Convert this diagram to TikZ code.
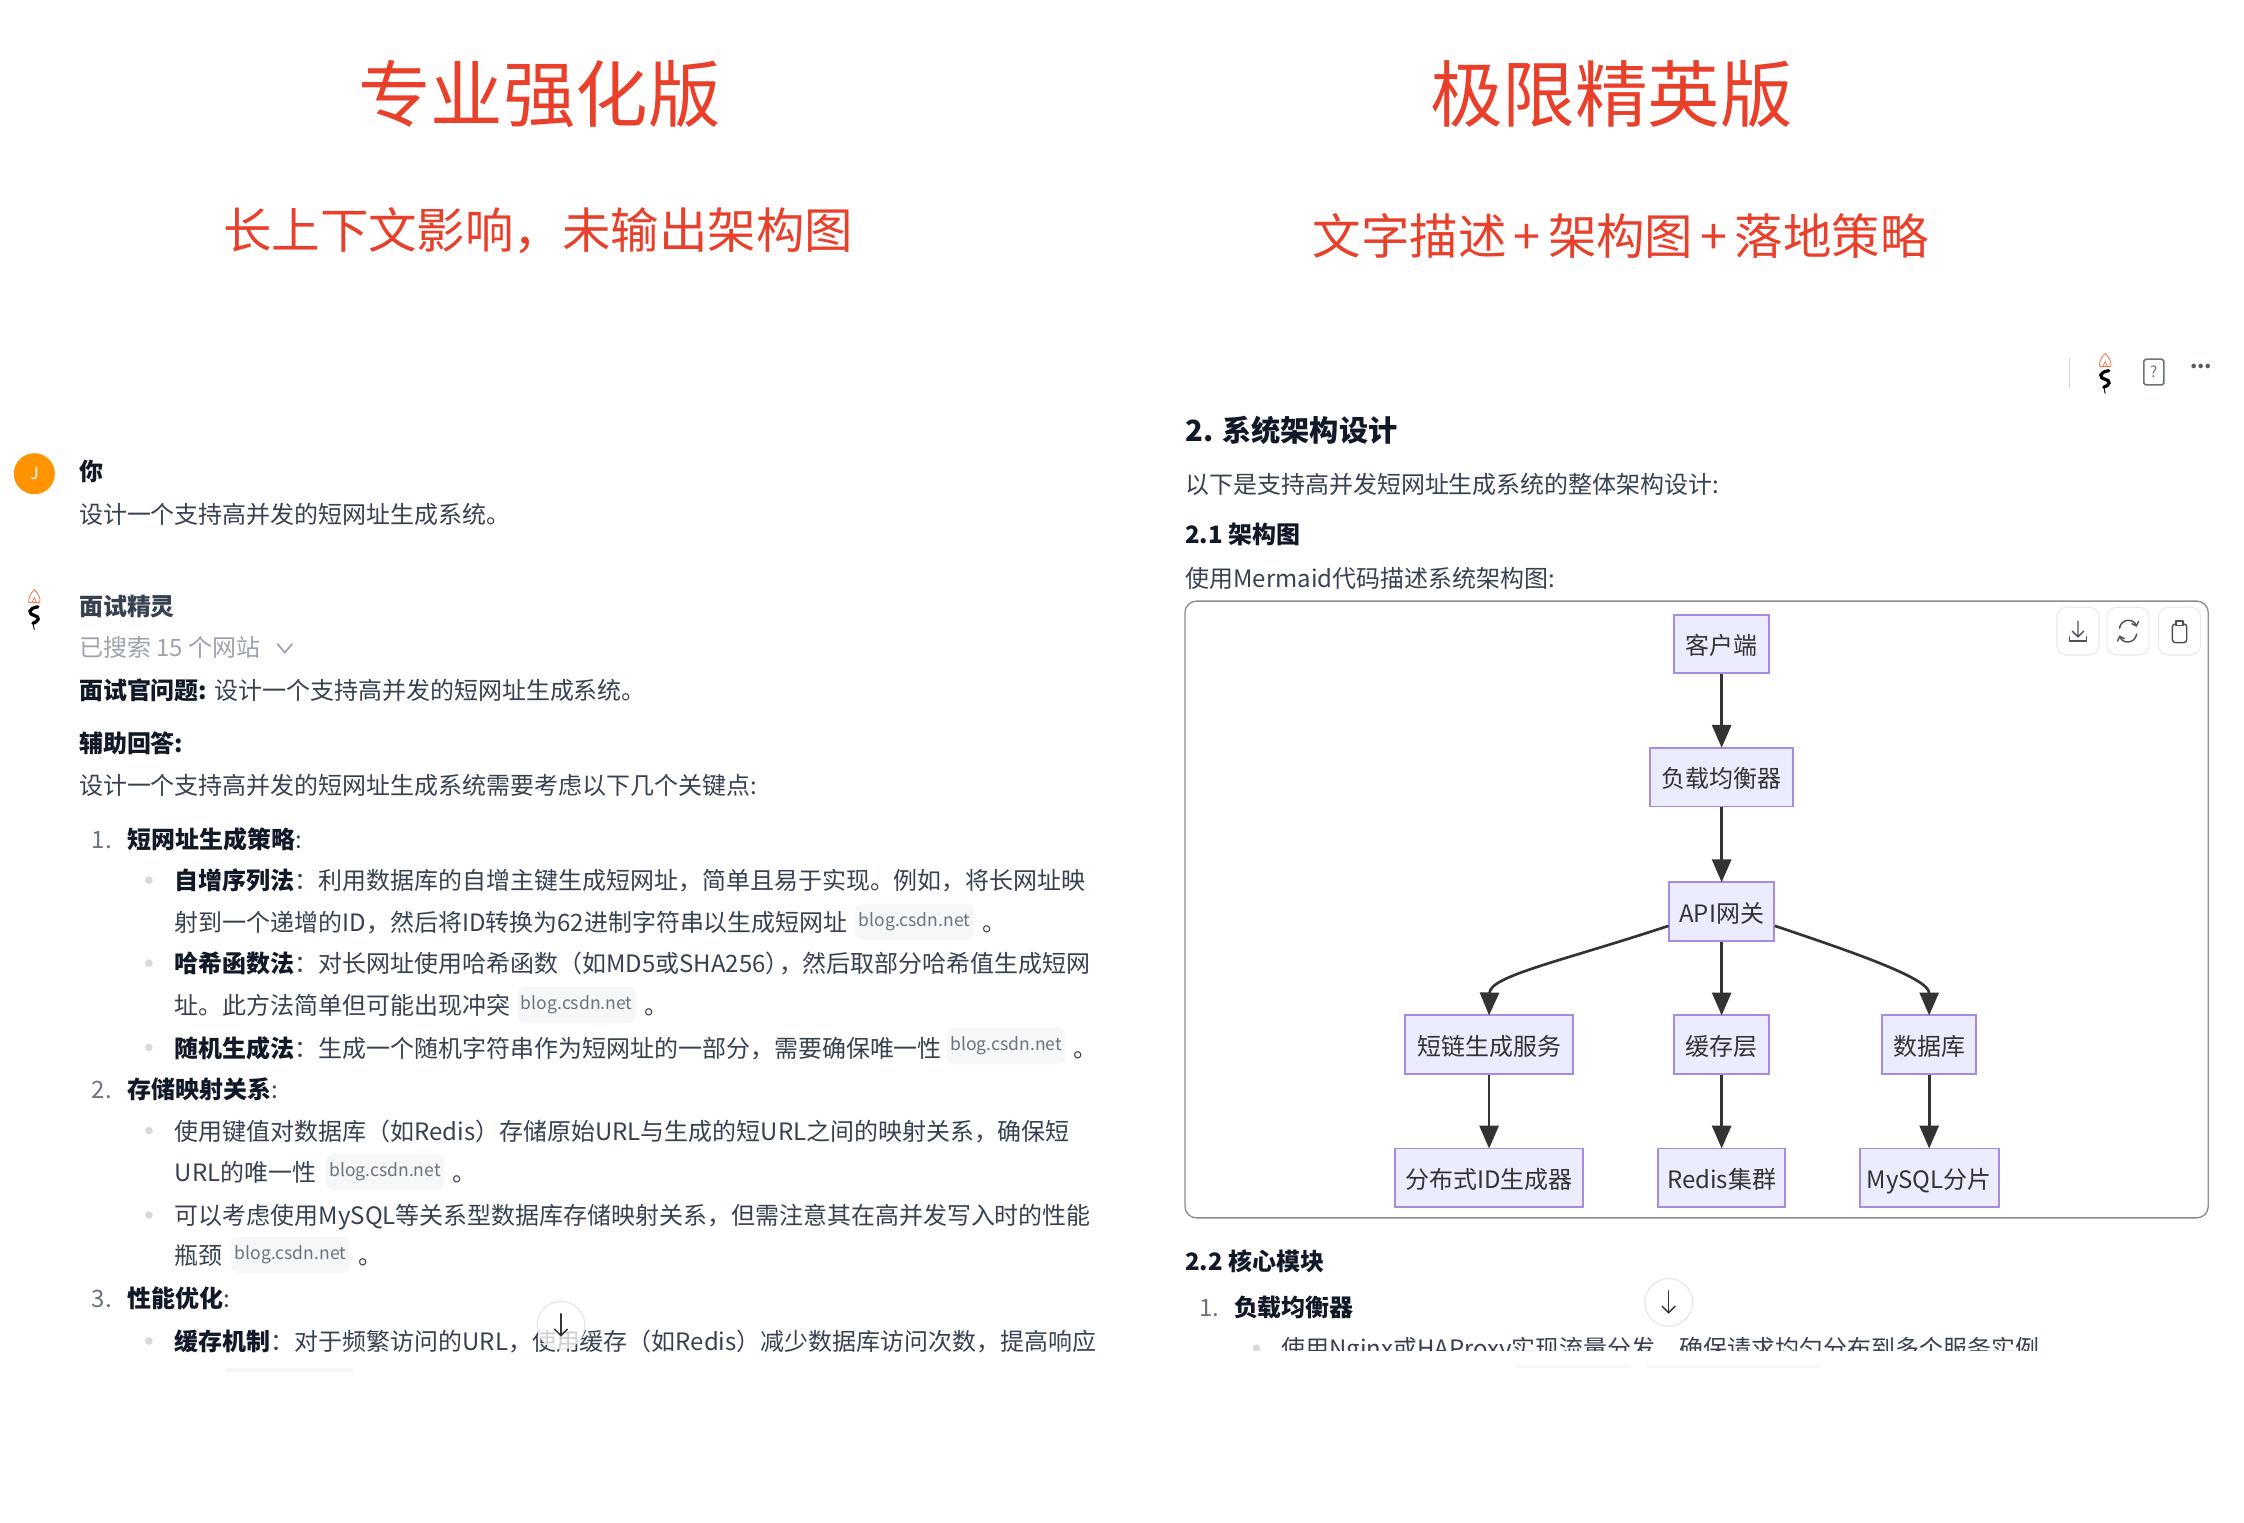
\documentclass[tikz,border=0pt]{standalone}
\usepackage{fontspec}
\setmainfont{Noto Sans CJK SC}
\usetikzlibrary{arrows.meta}
\definecolor{titlered}{HTML}{E8402A}
\definecolor{bodytxt}{HTML}{374151}
\definecolor{inkbold}{HTML}{111827}
\definecolor{muted}{HTML}{9CA3AF}
\definecolor{numgrey}{HTML}{6B7280}
\definecolor{chipbg}{HTML}{F6F7F8}
\definecolor{mfill}{HTML}{ECECFF}
\definecolor{mborder}{HTML}{A78BE0}
\definecolor{edgecol}{HTML}{333333}
\newcommand{\bd}[1]{\textcolor{inkbold}{\textbf{#1}}}
\tikzset{
  x=0.75pt,y=-0.75pt,
  txt/.style={anchor=west,inner sep=0pt,text height=12.4pt,text depth=2.2pt,text=bodytxt,font=\fontsize{12.56}{15}\selectfont},
  head/.style={txt,text=inkbold,font=\fontsize{12.56}{15}\selectfont\bfseries},
  numlab/.style={txt,text=numgrey},
  chip/.style={fill=chipbg,rounded corners=4pt,inner sep=0pt,minimum width=62pt,minimum height=19pt,text=numgrey,font=\fontsize{9.2}{12}\selectfont},
  bigtitle/.style={inner sep=0pt,text=titlered,font=\fontsize{38}{42}\selectfont},
  subtitle/.style={inner sep=0pt,text=titlered,font=\fontsize{25.4}{30}\selectfont},
  flow/.style={draw=mborder,fill=mfill,line width=1pt,minimum height=30.75pt,inner sep=0pt,text height=12.5pt,text depth=1.6pt,text=edgecol,font=\fontsize{12.56}{15}\selectfont},
  link/.style={draw=edgecol,line width=1.4pt,-{Triangle[length=12pt,width=10pt]},shorten >=-0.5pt},
  dotb/.style={circle,fill=black!15,inner sep=0pt,minimum size=4pt},
  toolbtn/.style={draw=black!8,fill=white,rounded corners=5pt,line width=.6pt,minimum width=22pt,minimum height=25pt,inner sep=0pt},
  icon/.style={draw=numgrey!70!black,line width=.75pt,line cap=round,line join=round},
  downbtn/.style={circle,draw=black!10,fill=white,fill opacity=.75,minimum size=25pt,inner sep=0pt,line width=.6pt},
}
\newcommand{\applogo}[2]{%
  \begin{scope}[shift={(#1,#2)}]
    \draw[red!55!orange!70,line width=.45pt,fill=white] (0,-14) .. controls (3,-11) and (4.5,-8) .. (3.8,-5) -- (-3.8,-5) .. controls (-4.5,-8) and (-3,-11) .. (0,-14) -- cycle;
    \draw[red!55!orange!70,line width=.4pt] (-1.5,-5) -- (0,-8.5) -- (1.5,-5);
    \draw[black,line width=1.7pt,line cap=round] (2.5,-2) .. controls (-4.5,-1) and (-4.5,3) .. (0,4) .. controls (4,5) and (3.5,8) .. (-1,9.5);
    \draw[black,line width=.5pt] (-1,9.5) -- (0,14);
  \end{scope}}
\begin{document}
\begin{tikzpicture}
\useasboundingbox (0,0) rectangle (1568,1063.5);
\fill[white] (0,0) rectangle (1568,1063.5);
% titles
\node[bigtitle] (ta) at (377,66) {专业强化版};
\node[bigtitle] (tb) at (1126,66) {极限精英版};
\node[subtitle] (sa) at (376,161) {长上下文影响，未输出架构图};
\node[subtitle] (sb) at (1132.5,165) {文字描述\kern.15em+\kern.15em架构图\kern.15em+\kern.15em落地策略};
% left column
\node[circle,fill=orange!85!yellow,minimum size=21.5pt,inner sep=0pt,text=white,font=\fontsize{8.5}{9}\selectfont] (av) at (24,331) {J};
\node[head] (l1) at (55,329) {你};
\node[txt] (l2) at (55,359) {设计一个支持高并发的短网址生成系统。};
\applogo{24}{426}
\node[head,text=bodytxt] (l3) at (55,423) {面试精灵};
\node[txt,text=muted] (l4) at (55,452) {已搜索 15 个网站};
\coordinate (chevA) at (199,453);
\draw[muted,line width=.9pt,line cap=round] ([shift={(-5,-3)}]chevA) -- ([shift={(0,3)}]chevA) -- ([shift={(5,-3)}]chevA);
\node[txt] (l5) at (55,482) {\bd{面试官问题:} 设计一个支持高并发的短网址生成系统。};
\node[head] (l6) at (55,519) {辅助回答:};
\node[txt] (l7) at (55,548) {设计一个支持高并发的短网址生成系统需要考虑以下几个关键点:};
\node[numlab] (n1) at (64,586) {1.};
\node[txt] (l8) at (89,586) {\bd{短网址生成策略}:};
\node[dotb] (b1) at (104,615) {};
\node[txt] (l9) at (122,615) {\bd{自增序列法}：利用数据库的自增主键生成短网址，简单且易于实现。例如，将长网址映};
\node[txt] (l10) at (122,644) {射到一个递增的ID，然后将ID转换为62进制字符串以生成短网址};
\node[chip] (c1) at (639,644) {blog.csdn.net};
\node[txt] (p1) at (686,644) {。};
\node[dotb] (b2) at (104,673) {};
\node[txt] (l11) at (122,673) {\bd{哈希函数法}：对长网址使用哈希函数（如MD5或SHA256）\kern-.45em，然后取部分哈希值生成短网};
\node[txt] (l12) at (122,702) {址。此方法简单但可能出现冲突};
\node[chip] (c2) at (403,702) {blog.csdn.net};
\node[txt] (p2) at (450,702) {。};
\node[dotb] (b3) at (104,732) {};
\node[txt] (l13) at (122,732) {\bd{随机生成法}：生成一个随机字符串作为短网址的一部分，需要确保唯一性};
\node[chip] (c3) at (703,731) {blog.csdn.net};
\node[txt] (p3) at (750,732) {。};
\node[numlab] (n2) at (64,761) {2.};
\node[txt] (l14) at (89,761) {\bd{存储映射关系}:};
\node[dotb] (b4) at (104,790) {};
\node[txt] (l15) at (122,790) {使用键值对数据库（如Redis）存储原始URL与生成的短URL之间的映射关系，确保短};
\node[txt] (l16) at (122,819) {URL的唯一性};
\node[chip] (c4) at (269,819) {blog.csdn.net};
\node[txt] (p4) at (316,819) {。};
\node[dotb] (b5) at (104,849) {};
\node[txt] (l17) at (122,849) {可以考虑使用MySQL等关系型数据库存储映射关系，但需注意其在高并发写入时的性能};
\node[txt] (l18) at (122,877) {瓶颈};
\node[chip] (c5) at (203,877) {blog.csdn.net};
\node[txt] (p5) at (250,877) {。};
\node[numlab] (n3) at (64,907) {3.};
\node[txt] (l19) at (89,907) {\bd{性能优化}:};
\node[dotb] (b6) at (104,937) {};
\node[txt] (l20) at (122,937) {\bd{缓存机制}：对于频繁访问的URL，使用缓存（如Redis）减少数据库访问次数，提高响应};
\fill[chipbg] (157,956) rectangle (247,959);
\node[downbtn] (d1) at (392,926) {};
\draw[icon,edgecol,-{Straight Barb[length=3.5pt,width=7pt]}] (392,918) -- (392,934);
% right column header
\draw[black!15,line width=.6pt] (1446,250) -- (1446,271);
\applogo{1471}{261}
\node[draw=numgrey,rounded corners=1pt,line width=.8pt,minimum width=10.5pt,minimum height=13.5pt,inner sep=0pt,text=numgrey,font=\fontsize{8}{8}\selectfont] (qd) at (1505,260) {?};
\node[inner sep=0pt,text=numgrey!80!black,font=\fontsize{11}{11}\selectfont\bfseries] (dots) at (1538,256) {...};
\node[head,font=\fontsize{15.3}{18}\selectfont\bfseries] (r1) at (828,302) {2. 系统架构设计};
\node[txt] (r2) at (828,338) {以下是支持高并发短网址生成系统的整体架构设计:};
\node[head] (r3) at (828,373) {2.1 架构图};
\node[txt] (r4) at (828,404) {使用Mermaid代码描述系统架构图:};
% diagram frame
\node[draw=black!45,line width=.7pt,rounded corners=6pt,minimum width=536.25pt,minimum height=323.25pt,inner sep=0pt] (frame) at (1185.5,635.5) {};
% toolbar
\node[toolbtn] (tb1) at (1452,441) {};
\node[toolbtn] (tb2) at (1487,441) {};
\node[toolbtn] (tb3) at (1523,441) {};
\draw[icon] (1452,434) -- (1452,445) (1448,441) -- (1452,445) -- (1456,441);
\draw[icon] (1446,445) -- (1446,448) -- (1458,448) -- (1458,445);
\draw[icon,-{Straight Barb[length=2pt,width=4pt]}] (1481,439) .. controls (1482,432) and (1491,432) .. (1493,438);
\draw[icon,-{Straight Barb[length=2pt,width=4pt]}] (1493,443) .. controls (1492,450) and (1483,450) .. (1481,444);
\draw[icon,rounded corners=1.5pt] (1518,436) rectangle (1528,449);
\draw[icon,fill=white] (1520.5,434) rectangle (1525.5,437);
% flowchart
\node[flow,minimum width=49.5pt] (client) at (1203,450) {客户端};
\node[flow,minimum width=75pt] (lb) at (1203,543) {负载均衡器};
\node[flow,minimum width=54.75pt] (api) at (1203,637) {API网关};
\node[flow,minimum width=87.75pt] (svc) at (1040.5,730) {短链生成服务};
\node[flow,minimum width=49.5pt] (cache) at (1203,730) {缓存层};
\node[flow,minimum width=49.5pt] (db) at (1348,730) {数据库};
\node[flow,minimum width=98.25pt] (idgen) at (1040.5,823) {分布式ID生成器};
\node[flow,minimum width=66.75pt] (redis) at (1203,823) {Redis集群};
\node[flow,minimum width=72.75pt] (mysql) at (1348,823) {MySQL分片};
\draw[link] (client) -- (lb);
\draw[link] (lb) -- (api);
\draw[link] (api) -- (cache);
\draw[link] (api.195) .. controls (1090,672) and (1041,682) .. (svc.north);
\draw[link] (api.-15) .. controls (1300,667) and (1348,684) .. (db.north);
\draw[link] (svc) -- (idgen);
\draw[link] (cache) -- (redis);
\draw[link] (db) -- (mysql);
% below diagram
\node[head] (r5) at (828,881) {2.2 核心模块};
\node[numlab] (r6) at (838,913) {1.};
\node[head] (r7) at (862,913) {负载均衡器};
\node[dotb] (r8) at (878,942) {};
\node[txt] (r9) at (895,942) {使用Nginx或HAProxy实现流量分发，确保请求均匀分布到多个服务实例};
\fill[white] (860,944) rectangle (1568,960);
\fill[chipbg] (1059,953.5) rectangle (1140,956);
\fill[chipbg] (1151,953.5) rectangle (1272,956);
\node[downbtn,fill opacity=1] (d2) at (1166,910) {};
\draw[icon,edgecol,-{Straight Barb[length=3.5pt,width=7pt]}] (1166,902) -- (1166,918);
\end{tikzpicture}
\end{document}
